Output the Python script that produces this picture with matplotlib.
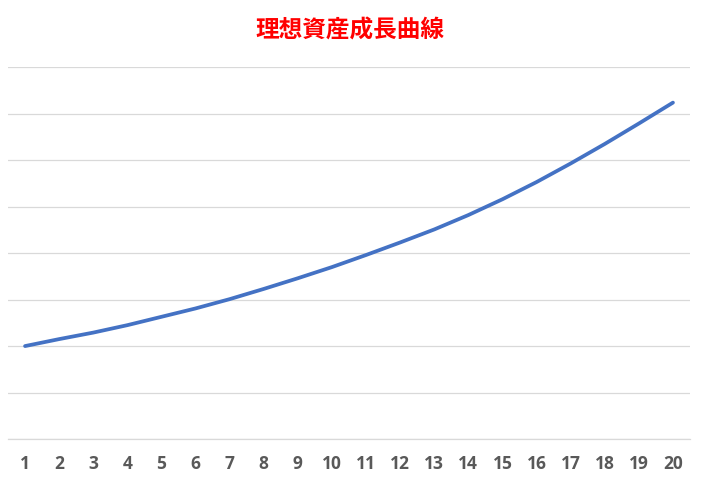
import numpy as np
import matplotlib
matplotlib.use("Agg")
import matplotlib.pyplot as plt

plt.rcParams['font.family'] = ['Noto Sans CJK JP', 'DejaVu Sans']

# years and asset value (gridline units)
years = list(range(1, 21))
assets = [2.00, 2.15, 2.29, 2.45, 2.63, 2.81, 3.01, 3.23, 3.46, 3.70,
          3.96, 4.23, 4.51, 4.82, 5.16, 5.53, 5.93, 6.35, 6.79, 7.24]
title = "理想資産成長曲線"

W, H = 701, 478
fig = plt.figure(figsize=(W / 100, H / 100), dpi=100)
ax = fig.add_axes([8 / W, (H - 439) / H, (690 - 8) / W, (439 - 67.3) / H])

ax.plot(years, assets, color='#4472C4', linewidth=2.7, solid_capstyle='round',
        solid_joinstyle='round', zorder=3)

ax.set_xlim(0.5, 20.5)
ax.set_ylim(0, 8)
ax.set_yticks(np.arange(0, 9, 1))
ax.yaxis.grid(True, color='#D9D9D9', linewidth=0.9)
ax.set_axisbelow(True)
ax.tick_params(axis='y', left=False, labelleft=False)
ax.set_xticks(years)
ax.set_xticklabels([str(y) for y in years], fontsize=12.5, fontweight='bold',
                   color='#595959', family=['Open Sans', 'DejaVu Sans'])
ax.tick_params(axis='x', length=0, pad=11.5)

for s in ['top', 'right', 'left']:
    ax.spines[s].set_visible(False)
ax.spines['bottom'].set_color('#D9D9D9')
ax.spines['bottom'].set_linewidth(0.9)

fig.text(349.5 / W, 1 - 31 / H, title, ha='center', va='center',
         fontsize=17, fontweight='bold', color='#FF0000')

fig.savefig('out.png', dpi=100)
